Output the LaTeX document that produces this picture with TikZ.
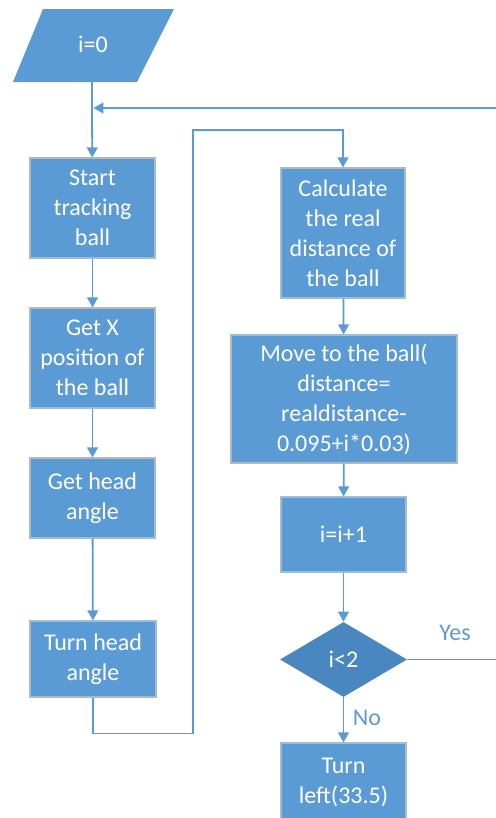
\documentclass[tikz,border=0pt]{standalone}
\usepackage{fontspec}
\setmainfont{Carlito}
\usetikzlibrary{shapes.geometric,arrows.meta}
\definecolor{boxblue}{HTML}{5B9BD5}
\definecolor{deciblue}{HTML}{4A86C0}
\definecolor{edgegray}{HTML}{A9BACB}
\definecolor{linkblue}{HTML}{5B9BD5}
\tikzset{
  flowtext/.style={font=\fontsize{18}{22.5}\selectfont},
  stepbox/.style={flowtext, draw=edgegray, line width=0.8pt, fill=boxblue,
    text=white, align=center, inner sep=0pt},
  decision/.style={flowtext, diamond, fill=deciblue, text=white,
    inner sep=0pt},
  link/.style={draw=linkblue, line width=1.35pt},
  flow/.style={link, -{Triangle[width=8pt,length=7.5pt]}},
  lbl/.style={flowtext, text=linkblue},
  size/.style 2 args={minimum width=#1*0.75pt, minimum height=#2*0.75pt}
}
\begin{document}
\begin{tikzpicture}[x=0.75pt,y=-0.75pt]
  \useasboundingbox (0,0) rectangle (496,818);
  \begin{scope}
    \clip (0,0) rectangle (496,818);

    % start: input parallelogram
    \fill[boxblue] (43,9) -- (174,9) -- (137,82) -- (13,82) -- cycle;
    \node[flowtext, text=white] (init) at (93,44) {i=0};
    \coordinate (initb) at (92,82);

    % left column
    \node[stepbox, size={125}{100}] (track) at (92.5,208)
      {Start\\tracking\\ball};
    \node[stepbox, size={125}{100}] (getx) at (92.5,358)
      {Get X\\position of\\the ball};
    \node[stepbox, size={125}{80}] (head) at (92.5,498)
      {Get head\\angle};
    \node[stepbox, size={126}{76}] (turnh) at (93,659)
      {Turn head\\angle};

    % right column
    \node[stepbox, size={124}{130}] (calc) at (343,233)
      {Calculate\\the real\\distance of\\the ball};
    \node[stepbox, size={226}{128}] (move) at (344,399)
      {Move to the ball(\\distance=\\realdistance-\\0.095+i*0.03)};
    \node[stepbox, size={125}{75}] (inc) at (343.5,534.5)
      {i=i+1};
    \node[decision, size={127}{75}] (test) at (343.5,659.5)
      {i<2};
    \node[stepbox, size={125}{78}] (turnl) at (343.5,782)
      {Turn\\left(33.5)};

    % loop-back junction and routing points
    \coordinate (join) at (92,108);
    \coordinate (backin) at (496,108);
    \coordinate (yesout) at (496,659.5);
    \coordinate (bridge) at (193,130);

    % connectors
    \draw[link] (initb) -- (join);
    \draw[flow] (join) -- (track);
    \draw[flow] (backin) -- ([xshift=1pt]join);
    \draw[flow] (track) -- (getx);
    \draw[flow] (getx) -- (head);
    \draw[flow] (head) -- (turnh);
    \draw[flow] (turnh.south) -- ++(0,36) -| (bridge) -| (calc.north);
    \draw[flow] (calc) -- (move);
    \draw[flow] (move) -- (inc);
    \draw[flow] (inc) -- (test);
    \draw[flow] (test) -- node[lbl, right=3pt, pos=0.45] {No} (turnl);
    \draw[link] (test.east) -- (yesout);
    \node[lbl] (yes) at (455,633) {Yes};
  \end{scope}
\end{tikzpicture}
\end{document}
